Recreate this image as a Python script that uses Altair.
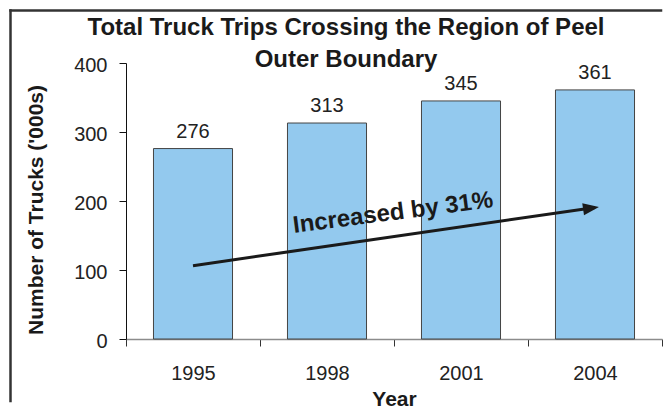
import altair as alt
import pandas as pd

# ---- data ----
years = ["1995", "1998", "2001", "2004"]
trucks = [276, 313, 345, 361]
arrow_years = ["1995", "2004"]
arrow_values = [106.3, 190.6]
note_years = ["1998"]
note_values = [172.5]
note_texts = ["Increased by 31%"]
title_lines = ["Total Truck Trips Crossing the Region of Peel", "Outer Boundary"]
y_ticks = [0, 100, 200, 300, 400]

FONT = "Liberation Sans"
TEXT = "#222222"
DARK = "#1a1a1a"

bars_df = pd.DataFrame({"year": years, "trucks": trucks})
arrow_df = pd.DataFrame({"year": arrow_years, "trucks": arrow_values})
head_df = arrow_df.iloc[[-1]]
note_df = pd.DataFrame({"year": note_years, "trucks": note_values, "note": note_texts})
frame_df = pd.DataFrame({"k": [0]})

x_axis = alt.Axis(
    labelAngle=0, labelFontSize=20, labelColor=TEXT, labelBaseline="alphabetic",
    labelPadding=33, tickBand="extent", tickSize=7, tickColor="#333333", tickWidth=1,
    domainColor="#8c8c8c", domainWidth=1.5, titleFontSize=21, titleFontWeight="bold",
    titleColor=DARK, titleY=66, titleBaseline="alphabetic", grid=False,
)
y_axis = alt.Axis(
    values=y_ticks, tickSize=7, tickColor="#111111", domainColor="#111111",
    labelFontSize=20, labelPadding=12, labelColor=TEXT, labelOffset=2,
    titleFontSize=21, titleFontWeight="bold", titleColor=DARK, titleX=-90,
    titleY=146.5, titleAngle=270, titleBaseline="middle", titleAlign="center", grid=False,
)

x_enc = alt.X("year:N", sort=years, title="Year", axis=x_axis,
              scale=alt.Scale(domain=years, paddingInner=0, paddingOuter=0))
y_enc = alt.Y("trucks:Q", title="Number of Trucks ('000s)", axis=y_axis,
              scale=alt.Scale(domain=[0, 400]))

bars = alt.Chart(bars_df).mark_bar(
    fill="#93C9EE", stroke="#444444", strokeWidth=1, width=alt.RelativeBandSize(0.59)
).encode(x=x_enc, y=y_enc)

labels = alt.Chart(bars_df).mark_text(
    baseline="alphabetic", dy=-11, fontSize=20, color=TEXT, font=FONT
).encode(x=x_enc, y=y_enc, text="trucks:Q")

arrow = alt.Chart(arrow_df).mark_line(color=DARK, strokeWidth=3).encode(x=x_enc, y=y_enc)

head = alt.Chart(head_df).mark_point(
    shape="M-1.5,-0.75L0.5,0L-1.5,0.75Z", size=256, filled=True, color=DARK,
    opacity=1, angle=351.76, strokeWidth=0
).encode(x=x_enc, y=y_enc)

note = alt.Chart(note_df).mark_text(
    angle=352.6, baseline="alphabetic", align="center", fontSize=24,
    fontWeight="bold", color=DARK, font=FONT
).encode(
    x=alt.X("year:N", sort=years, title="Year", axis=x_axis, bandPosition=1,
            scale=alt.Scale(domain=years, paddingInner=0, paddingOuter=0)),
    y=y_enc, text="note:N",
)

frame_top = alt.Chart(frame_df).mark_rule(
    color="#333333", strokeWidth=2.5, strokeCap="square"
).encode(x=alt.value(-115.5), x2=alt.value(535), y=alt.value(-52.5))

frame_left = alt.Chart(frame_df).mark_rule(
    color="#333333", strokeWidth=2.5, strokeCap="square"
).encode(x=alt.value(-115.5), y=alt.value(-52.5), y2=alt.value(338))

chart = alt.layer(bars, labels, arrow, head, note, frame_top, frame_left).properties(
    width=536,
    height=276,
    padding={"left": 0, "top": 0, "right": 0, "bottom": 0},
    title=alt.TitleParams(
        text=title_lines, fontSize=24, fontWeight="bold", color=DARK, font=FONT,
        lineHeight=32, baseline="alphabetic", anchor="middle", frame="group",
        dx=-48, offset=-82.5,
    ),
).configure(font=FONT).configure_view(stroke=None)

chart.save("out.html", embed_options={"renderer": "svg", "actions": False})
